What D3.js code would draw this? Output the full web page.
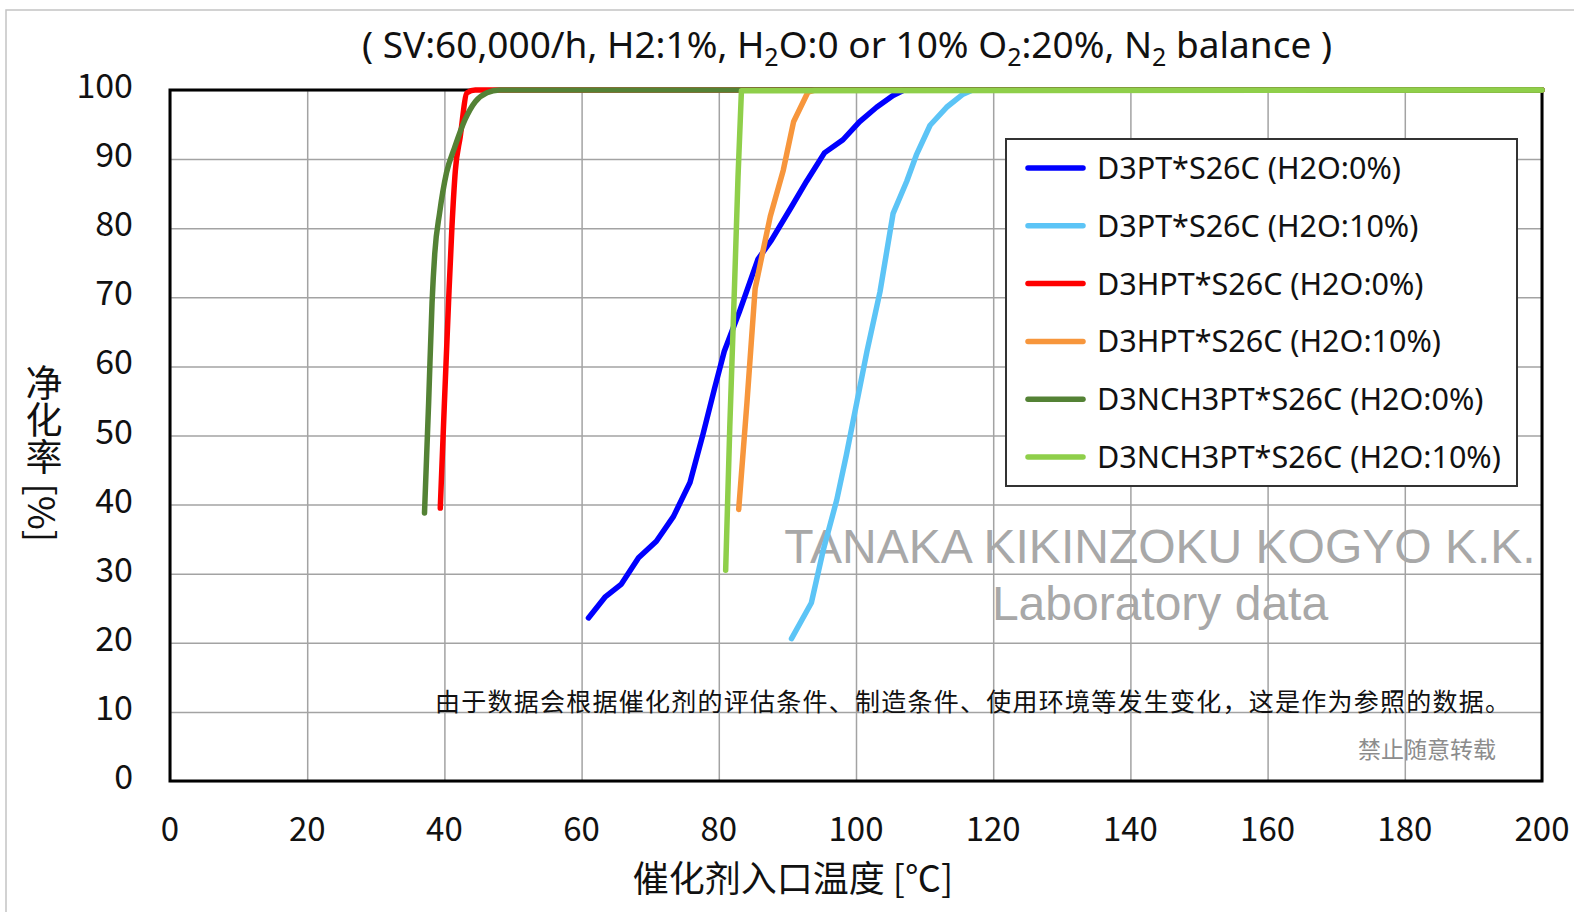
<!DOCTYPE html>
<html>
<head>
<meta charset="utf-8">
<script src="https://cdn.jsdelivr.net/npm/d3@7"></script>
<style>
body { margin: 0; background: #fff; }
svg { display: block; }
</style>
</head>
<body>
<div id="chart"></div>
<script>
// series: inlet temperature (°C) and conversion (%)
const seriesNames = ["D3PT*S26C (H2O:0%)", "D3PT*S26C (H2O:10%)", "D3HPT*S26C (H2O:0%)",
    "D3HPT*S26C (H2O:10%)", "D3NCH3PT*S26C (H2O:0%)", "D3NCH3PT*S26C (H2O:10%)"];
const seriesColors = ["#0000ff", "#5cc4f6", "#ff0000", "#f7963c", "#548235", "#8fcf4a"];

const d3ptDryTemp = [61.0, 63.4, 65.8, 68.3, 70.9, 73.4, 75.8, 77.7, 79.4, 80.8, 83.0, 85.7, 87.7, 90.6, 92.8, 95.4, 98.1, 100.5, 103.0, 105.4, 107, 200];
const d3ptDryRate = [23.6, 26.6, 28.5, 32.3, 34.7, 38.3, 43.2, 50.2, 56.9, 62.2, 67.9, 75.5, 78.3, 83.1, 86.8, 90.9, 92.8, 95.4, 97.5, 99.2, 100, 100];

const d3ptWetTemp = [90.6, 93.5, 95.2, 97.2, 98.6, 100.1, 101.6, 103.5, 105.4, 107.4, 108.8, 110.8, 113.2, 115.6, 117, 200];
const d3ptWetRate = [20.6, 25.8, 33.3, 40.7, 47.2, 54.7, 62.2, 70.8, 82.1, 86.8, 90.6, 94.9, 97.5, 99.4, 100, 100];

const d3hptDryTemp = [39.4, 40.0, 40.6, 41.1, 41.6, 42.3, 43.3, 44.5, 200];
const d3hptDryRate = [39.5, 54.7, 69.2, 80.2, 88.4, 93.2, 99.6, 100, 100];

const d3hptWetTemp = [82.9, 84.1, 85.3, 87.5, 89.4, 90.9, 93.0, 94, 200];
const d3hptWetRate = [39.3, 54.7, 71.3, 81.7, 88.4, 95.4, 99.7, 100, 100];

const d3nchDryTemp = [37.1, 37.7, 38.2, 38.6, 39.3, 40.3, 41.5, 43.0, 44.5, 46.2, 48, 200];
const d3nchDryRate = [38.8, 54.7, 69.2, 76.4, 82.2, 88.0, 91.7, 95.7, 98.3, 99.6, 100, 100];

const d3nchWetTemp = [81.0, 81.6, 82.3, 82.8, 83.3, 200];
const d3nchWetRate = [30.5, 51.2, 71.9, 87.4, 99.9, 100];

const xTicks = [0, 20, 40, 60, 80, 100, 120, 140, 160, 180, 200];
const yTicks = [0, 10, 20, 30, 40, 50, 60, 70, 80, 90, 100];

const titleText = "( SV:60,000/h, H2:1%, H₂O:0 or 10% O₂:20%, N₂ balance )";
const xTitle = "催化剂入口温度 [℃]";
const yTitle = "净化率 [%]";
const noteText = "由于数据会根据催化剂的评估条件、制造条件、使用环境等发生变化，这是作为参照的数据。";
const copyText = "禁止随意转载";
const markLine1 = "TANAKA KIKINZOKU KOGYO K.K.";
const markLine2 = "Laboratory data";

const width = 1574, height = 912;
const margin = {left: 170, right: 32, top: 90, bottom: 131};
const cjk = "'Noto Sans CJK SC', 'Noto Sans', sans-serif";

const series = [
    [d3ptDryTemp, d3ptDryRate], [d3ptWetTemp, d3ptWetRate],
    [d3hptDryTemp, d3hptDryRate], [d3hptWetTemp, d3hptWetRate],
    [d3nchDryTemp, d3nchDryRate], [d3nchWetTemp, d3nchWetRate]
].map((s, i) => ({
    name: seriesNames[i],
    color: seriesColors[i],
    values: s[0].map((t, j) => [t, s[1][j]])
}));

const svg = d3.select("#chart").append("svg")
    .attr("width", width)
    .attr("height", height);

// outer frame of the picture
svg.append("path")
    .attr("d", "M6,912 V10 H1574")
    .attr("fill", "none")
    .attr("stroke", "#c4c4c4")
    .attr("stroke-width", 1.5);

const x = d3.scaleLinear().domain([0, 200]).range([margin.left, width - margin.right]);
const y = d3.scaleLinear().domain([0, 100]).range([height - margin.bottom, margin.top]);

// grid
svg.append("g")
    .attr("transform", `translate(0,${height - margin.bottom})`)
    .call(d3.axisBottom(x).tickValues(xTicks).tickSize(-(y(0) - y(100))).tickFormat(""))
    .call(g => g.select(".domain").remove())
    .call(g => g.selectAll("line").attr("stroke", "#a3a3a3").attr("stroke-width", 1.5));

svg.append("g")
    .attr("transform", `translate(${margin.left},0)`)
    .call(d3.axisLeft(y).tickValues(yTicks).tickSize(-(x(200) - x(0))).tickFormat(""))
    .call(g => g.select(".domain").remove())
    .call(g => g.selectAll("line").attr("stroke", "#a3a3a3").attr("stroke-width", 1.5));

// watermark
svg.append("text")
    .attr("x", 1160).attr("y", 563)
    .attr("text-anchor", "middle")
    .attr("font-family", "'Liberation Sans', Arial, sans-serif")
    .attr("font-size", 48)
    .attr("fill", "#a8a8a8")
    .text(markLine1);
svg.append("text")
    .attr("x", 1160).attr("y", 620)
    .attr("text-anchor", "middle")
    .attr("font-family", "'Liberation Sans', Arial, sans-serif")
    .attr("font-size", 48)
    .attr("fill", "#a8a8a8")
    .text(markLine2);

// plot frame
svg.append("rect")
    .attr("x", x(0)).attr("y", y(100))
    .attr("width", x(200) - x(0)).attr("height", y(0) - y(100))
    .attr("fill", "none")
    .attr("stroke", "#000")
    .attr("stroke-width", 3);

// tick labels
svg.append("g")
    .attr("font-family", cjk)
    .attr("font-size", 33)
    .attr("fill", "#111")
    .selectAll("text")
    .data(xTicks)
    .join("text")
    .attr("x", d => x(d))
    .attr("y", 841)
    .attr("text-anchor", "middle")
    .text(d => d);

svg.append("g")
    .attr("font-family", cjk)
    .attr("font-size", 34)
    .attr("fill", "#111")
    .selectAll("text")
    .data(yTicks)
    .join("text")
    .attr("x", 133)
    .attr("y", d => y(d) + 8)
    .attr("text-anchor", "end")
    .text(d => d);

// curves
const line = d3.line()
    .x(d => x(d[0]))
    .y(d => y(d[1]));

svg.append("g")
    .attr("fill", "none")
    .selectAll("path")
    .data(series)
    .join("path")
    .attr("d", (d, i) => line.curve(i === 2 || i === 4 ? d3.curveMonotoneX : d3.curveLinear)(d.values))
    .attr("stroke", d => d.color)
    .attr("stroke-width", 5.5)
    .attr("stroke-linecap", "round")
    .attr("stroke-linejoin", "round");

// note texts
svg.append("text")
    .attr("x", 435).attr("y", 711)
    .attr("font-family", cjk)
    .attr("font-size", 25)
    .attr("fill", "#111")
    .attr("textLength", 1075)
    .text(noteText);

svg.append("text")
    .attr("x", 1358).attr("y", 758)
    .attr("font-family", cjk)
    .attr("font-size", 23)
    .attr("fill", "#8c8c8c")
    .text(copyText);

// legend
const legend = svg.append("g");
legend.append("rect")
    .attr("x", 1006).attr("y", 139)
    .attr("width", 511).attr("height", 347)
    .attr("fill", "#fff")
    .attr("stroke", "#333")
    .attr("stroke-width", 2);

const item = legend.selectAll("g")
    .data(series)
    .join("g")
    .attr("transform", (d, i) => `translate(1028,${168 + i * 57.8})`);
item.append("line")
    .attr("x1", 0).attr("x2", 55)
    .attr("stroke", d => d.color)
    .attr("stroke-width", 5.5)
    .attr("stroke-linecap", "round");
item.append("text")
    .attr("x", 69).attr("y", 11)
    .attr("font-family", "'Noto Sans', sans-serif")
    .attr("font-size", 30.5)
    .attr("fill", "#111")
    .text(d => d.name);

// title with subscripts
const title = svg.append("text")
    .attr("x", 847).attr("y", 58)
    .attr("text-anchor", "middle")
    .attr("font-family", "'Noto Sans', sans-serif")
    .attr("font-size", 37)
    .attr("fill", "#111");
let shift = 0;
titleText.split(/([₂])/).forEach(part => {
    if (!part) return;
    if (part === "₂") {
        title.append("tspan").attr("dy", 8).attr("font-size", 25).text("2");
        shift = -8;
    } else {
        title.append("tspan").attr("dy", shift).text(part);
        shift = 0;
    }
});

// axis titles
svg.append("text")
    .attr("x", 793).attr("y", 892)
    .attr("text-anchor", "middle")
    .attr("font-family", cjk)
    .attr("font-size", 36)
    .attr("fill", "#111")
    .text(xTitle);

svg.append("text")
    .attr("x", 44).attr("y", 364)
    .attr("font-family", cjk)
    .attr("font-size", 37)
    .attr("fill", "#111")
    .style("writing-mode", "vertical-rl")
    .text(yTitle);
</script>
</body>
</html>
